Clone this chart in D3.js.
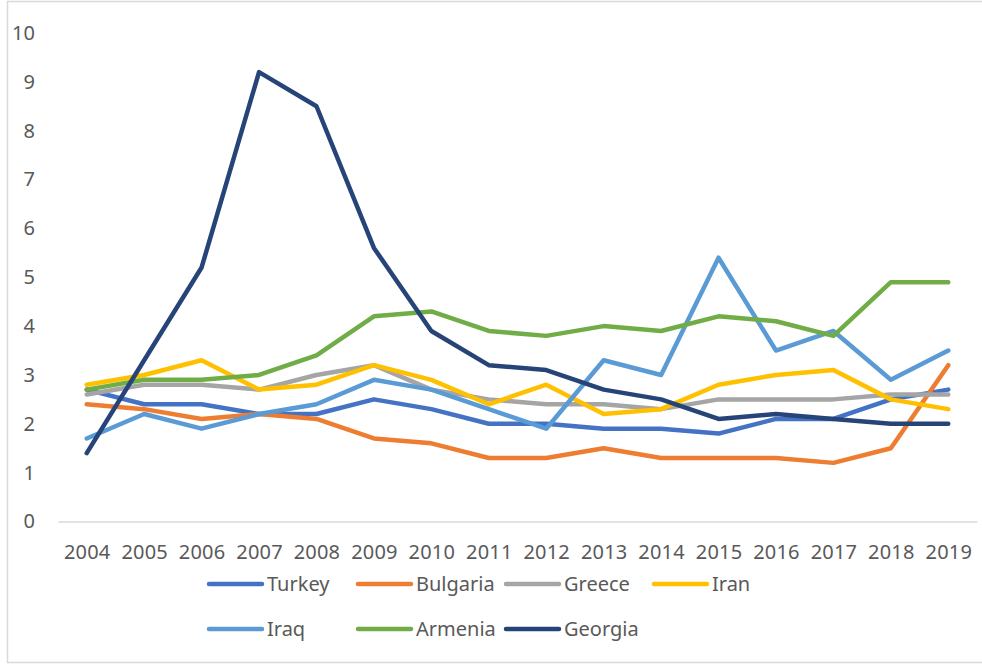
<!DOCTYPE html>
<html>
<head>
<meta charset="utf-8">
<script src="https://cdn.jsdelivr.net/npm/d3@7"></script>
<style>
  body { margin: 0; background: #fff; }
  text { font-family: "Noto Sans", "Open Sans", sans-serif; fill: #595959; }
</style>
</head>
<body>
<svg id="chart" width="982" height="665"></svg>
<script>
const years = ['2004','2005','2006','2007','2008','2009','2010','2011','2012','2013','2014','2015','2016','2017','2018','2019'];
const yTicks = [0,1,2,3,4,5,6,7,8,9,10];

const turkey   = [2.7,2.4,2.4,2.2,2.2,2.5,2.3,2.0,2.0,1.9,1.9,1.8,2.1,2.1,2.5,2.7];
const bulgaria = [2.4,2.3,2.1,2.2,2.1,1.7,1.6,1.3,1.3,1.5,1.3,1.3,1.3,1.2,1.5,3.2];
const greece   = [2.6,2.8,2.8,2.7,3.0,3.2,2.7,2.5,2.4,2.4,2.3,2.5,2.5,2.5,2.6,2.6];
const iran     = [2.8,3.0,3.3,2.7,2.8,3.2,2.9,2.4,2.8,2.2,2.3,2.8,3.0,3.1,2.5,2.3];
const iraq     = [1.7,2.2,1.9,2.2,2.4,2.9,2.7,2.3,1.9,3.3,3.0,5.4,3.5,3.9,2.9,3.5];
const armenia  = [2.7,2.9,2.9,3.0,3.4,4.2,4.3,3.9,3.8,4.0,3.9,4.2,4.1,3.8,4.9,4.9];
const georgia  = [1.4,3.3,5.2,9.2,8.5,5.6,3.9,3.2,3.1,2.7,2.5,2.1,2.2,2.1,2.0,2.0];

const series = [
  { name: 'Turkey',   values: turkey,   color: '#4472C4' },
  { name: 'Bulgaria', values: bulgaria, color: '#ED7D31' },
  { name: 'Greece',   values: greece,   color: '#A5A5A5' },
  { name: 'Iran',     values: iran,     color: '#FFC000' },
  { name: 'Iraq',     values: iraq,     color: '#5B9BD5' },
  { name: 'Armenia',  values: armenia,  color: '#70AD47' },
  { name: 'Georgia',  values: georgia,  color: '#264478' }
];

const svg = d3.select('#chart');

// chart frame
svg.append('rect')
  .attr('x', 7.5).attr('y', 1.5)
  .attr('width', 985).attr('height', 661)
  .attr('fill', 'none').attr('stroke', '#d9d9d9').attr('stroke-width', 1.5);

const x = d3.scalePoint().domain(years).range([58, 977]).padding(0.5);
const y = d3.scaleLinear().domain([0, 10]).range([521.5, 33]);

// y axis labels
svg.append('g')
  .attr('transform', 'translate(35,0)')
  .call(d3.axisLeft(y).tickValues(yTicks).tickSize(0).tickPadding(0))
  .call(g => g.select('.domain').remove())
  .selectAll('text')
  .attr('font-size', 20).attr('font-family', null).attr('fill', '#595959');

// x axis
svg.append('g')
  .attr('transform', 'translate(0,521.5)')
  .call(d3.axisBottom(x).tickSize(0).tickPadding(23))
  .call(g => g.select('.domain').attr('stroke', '#d9d9d9').attr('stroke-width', 1.5))
  .selectAll('text')
  .attr('font-size', 20).attr('font-family', null).attr('fill', '#595959')
  .attr('letter-spacing', 0.2);

const line = d3.line()
  .x((d, i) => x(years[i]))
  .y(d => y(d));

svg.append('g')
  .selectAll('path')
  .data(series)
  .join('path')
  .attr('d', d => line(d.values))
  .attr('fill', 'none')
  .attr('stroke', d => d.color)
  .attr('stroke-width', 4.5)
  .attr('stroke-linejoin', 'round')
  .attr('stroke-linecap', 'round');

// legend
const legendCols = [209, 358, 506, 654];
const legendRows = [584, 629];
const legend = svg.append('g')
  .selectAll('g')
  .data(series)
  .join('g')
  .attr('transform', (d, i) => `translate(${legendCols[i % 4]},${legendRows[Math.floor(i / 4)]})`);

legend.append('line')
  .attr('x1', 0).attr('x2', 53)
  .attr('stroke', d => d.color)
  .attr('stroke-width', 4.5)
  .attr('stroke-linecap', 'round');

legend.append('text')
  .attr('x', 58)
  .attr('dy', '0.35em')
  .attr('font-size', 20)
  .text(d => d.name);
</script>
</body>
</html>
